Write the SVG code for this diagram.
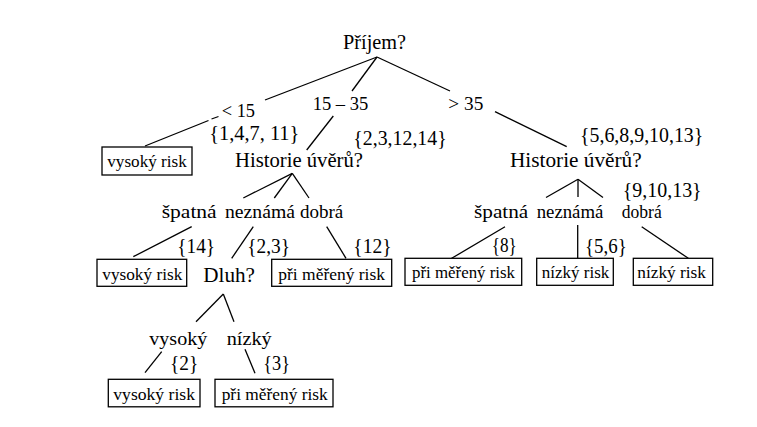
<svg xmlns="http://www.w3.org/2000/svg" width="757" height="427" viewBox="0 0 757 427">
<style>
  text { fill: #000; font-family: Liberation Serif, DejaVu Serif, serif; }
  .q { font-size: 20px; }
  .b { font-size: 19px; }
  .s { font-size: 20px; }
  .leaf { font-size: 17px; }
  rect.box { fill: #fff; stroke: #000; stroke-width: 1.3; }
  #connectors line { stroke: #000; stroke-width: 1.3; }
</style>
<rect x="0" y="0" width="757" height="427" fill="#fff" stroke="none"/>
<g id="connectors">
  <line x1="377" y1="57" x2="265" y2="100"/>
  <line x1="377" y1="57" x2="352" y2="91"/>
  <line x1="377" y1="57" x2="450" y2="91"/>
  <line x1="145" y1="146" x2="208.5" y2="120.5"/>
  <line x1="211.5" y1="119" x2="218.5" y2="116.5"/>
  <line x1="333.3" y1="116" x2="306.7" y2="150"/>
  <line x1="495" y1="111.7" x2="566.7" y2="146.7"/>
  <line x1="292.3" y1="173.3" x2="243.3" y2="198"/>
  <line x1="292.3" y1="173.3" x2="274.3" y2="198"/>
  <line x1="292.3" y1="173.3" x2="309" y2="198"/>
  <line x1="578" y1="179.3" x2="546" y2="197.5"/>
  <line x1="578" y1="179.3" x2="578" y2="197"/>
  <line x1="578" y1="179.3" x2="603" y2="197.5"/>
  <line x1="191.7" y1="226.7" x2="133.3" y2="256.7"/>
  <line x1="253.3" y1="226.7" x2="231.7" y2="258.3"/>
  <line x1="326.7" y1="226.7" x2="346" y2="258.3"/>
  <line x1="505" y1="226.7" x2="450" y2="259.3"/>
  <line x1="577.7" y1="225" x2="577.7" y2="258.3"/>
  <line x1="641.7" y1="226.7" x2="688.3" y2="258.3"/>
  <line x1="223.3" y1="294" x2="196" y2="321.7"/>
  <line x1="223.3" y1="294" x2="234" y2="321.7"/>
  <line x1="161.7" y1="351.7" x2="145" y2="372.7"/>
  <line x1="245" y1="349.3" x2="255" y2="373.3"/>
</g>
<g id="edge-labels">
  <text class="b" x="221.7" y="116.7" textLength="33.3" lengthAdjust="spacingAndGlyphs">&lt; 15</text>
  <text class="b" x="312.7" y="110" textLength="55.6" lengthAdjust="spacingAndGlyphs">15 – 35</text>
  <text class="b" x="448.3" y="110" textLength="35" lengthAdjust="spacingAndGlyphs">&gt; 35</text>
  <text class="s" x="209.3" y="140" textLength="90" lengthAdjust="spacingAndGlyphs">{1,4,7, 11}</text>
  <text class="s" x="353.3" y="145" textLength="93.4" lengthAdjust="spacingAndGlyphs">{2,3,12,14}</text>
  <text class="s" x="580" y="141.7" textLength="123.3" lengthAdjust="spacingAndGlyphs">{5,6,8,9,10,13}</text>
  <text class="s" x="622.7" y="197.3" textLength="79" lengthAdjust="spacingAndGlyphs">{9,10,13}</text>
  <text class="b" x="161.7" y="218.3" textLength="55" lengthAdjust="spacingAndGlyphs">špatná</text>
  <text class="b" x="225" y="218.3" textLength="70" lengthAdjust="spacingAndGlyphs">neznámá</text>
  <text class="b" x="300" y="218.3" textLength="43.3" lengthAdjust="spacingAndGlyphs">dobrá</text>
  <text class="b" x="474" y="218.3" textLength="54.3" lengthAdjust="spacingAndGlyphs">špatná</text>
  <text class="b" x="536.7" y="218.3" textLength="66.7" lengthAdjust="spacingAndGlyphs">neznámá</text>
  <text class="b" x="621.7" y="218.3" textLength="40" lengthAdjust="spacingAndGlyphs">dobrá</text>
  <text class="s" x="177.3" y="253.3" textLength="37.7" lengthAdjust="spacingAndGlyphs">{14}</text>
  <text class="s" x="247.3" y="253.3" textLength="42.7" lengthAdjust="spacingAndGlyphs">{2,3}</text>
  <text class="s" x="353.3" y="253.3" textLength="38.3" lengthAdjust="spacingAndGlyphs">{12}</text>
  <text class="s" x="491.7" y="251.7" textLength="25" lengthAdjust="spacingAndGlyphs">{8}</text>
  <text class="s" x="585" y="253.3" textLength="41.7" lengthAdjust="spacingAndGlyphs">{5,6}</text>
  <text class="b" x="149.3" y="345" textLength="58" lengthAdjust="spacingAndGlyphs">vysoký</text>
  <text class="b" x="226.7" y="345" textLength="45" lengthAdjust="spacingAndGlyphs">nízký</text>
  <text class="s" x="170" y="370" textLength="28.3" lengthAdjust="spacingAndGlyphs">{2}</text>
  <text class="s" x="263.3" y="370" textLength="26.7" lengthAdjust="spacingAndGlyphs">{3}</text>
</g>
<g id="n-prijem"><text class="q" x="343" y="49" textLength="63" lengthAdjust="spacingAndGlyphs">Příjem?</text></g>
<g id="n-historie-1"><text class="q" x="235" y="166.7" textLength="128" lengthAdjust="spacingAndGlyphs">Historie úvěrů?</text></g>
<g id="n-historie-2"><text class="q" x="510" y="166.7" textLength="131.7" lengthAdjust="spacingAndGlyphs">Historie úvěrů?</text></g>
<g id="n-dluh"><text class="q" x="203.3" y="281.7" textLength="51.7" lengthAdjust="spacingAndGlyphs">Dluh?</text></g>
<g id="leaf-1"><rect class="box" x="102" y="147" width="90" height="28"/><text class="leaf" x="107.3" y="166.7" textLength="79.4" lengthAdjust="spacingAndGlyphs">vysoký risk</text></g>
<g id="leaf-2"><rect class="box" x="97" y="259.3" width="89.7" height="27"/><text class="leaf" x="102.3" y="279.5" textLength="80" lengthAdjust="spacingAndGlyphs">vysoký risk</text></g>
<g id="leaf-3"><rect class="box" x="271.7" y="259.3" width="120" height="27"/><text class="leaf" x="278.3" y="279.5" textLength="106.7" lengthAdjust="spacingAndGlyphs">při měřený risk</text></g>
<g id="leaf-4"><rect class="box" x="405" y="258.3" width="116.7" height="27"/><text class="leaf" x="412" y="278.3" textLength="103" lengthAdjust="spacingAndGlyphs">při měřený risk</text></g>
<g id="leaf-5"><rect class="box" x="536.7" y="258.3" width="76.6" height="27"/><text class="leaf" x="541.7" y="278.3" textLength="67.6" lengthAdjust="spacingAndGlyphs">nízký risk</text></g>
<g id="leaf-6"><rect class="box" x="633.3" y="258.3" width="79.4" height="27"/><text class="leaf" x="637.3" y="278.3" textLength="68.7" lengthAdjust="spacingAndGlyphs">nízký risk</text></g>
<g id="leaf-7"><rect class="box" x="108.3" y="379.3" width="91.7" height="27.5"/><text class="leaf" x="113.3" y="399.5" textLength="81.7" lengthAdjust="spacingAndGlyphs">vysoký risk</text></g>
<g id="leaf-8"><rect class="box" x="215" y="379.3" width="118" height="27.5"/><text class="leaf" x="221.7" y="399.5" textLength="106" lengthAdjust="spacingAndGlyphs">při měřený risk</text></g>
</svg>
